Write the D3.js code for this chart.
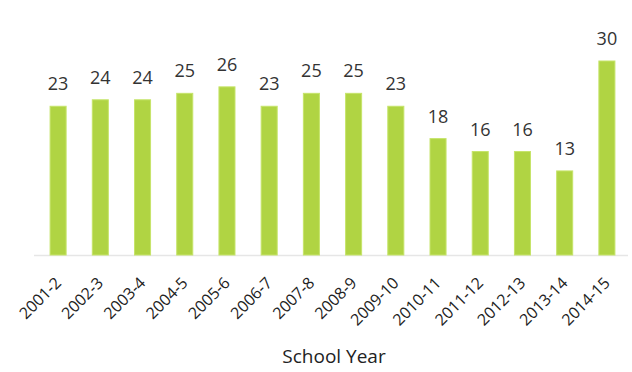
<!DOCTYPE html>
<html>
<head>
<meta charset="utf-8">
<script src="https://cdn.jsdelivr.net/npm/d3@7"></script>
<style>
  body { margin: 0; background: #fff; }
  svg { display: block; font-family: "Open Sans", "Noto Sans", sans-serif; }
</style>
</head>
<body>
<div id="chart"></div>
<script>
const years = ["2001-2", "2002-3", "2003-4", "2004-5", "2005-6", "2006-7", "2007-8",
  "2008-9", "2009-10", "2010-11", "2011-12", "2012-13", "2013-14", "2014-15"];
const counts = [23, 24, 24, 25, 26, 23, 25, 25, 23, 18, 16, 16, 13, 30];

const W = 632, H = 372;
const baseY = 255;

const svg = d3.select("#chart").append("svg")
  .attr("width", W)
  .attr("height", H);

const data = years.map((y, i) => ({ year: y, value: counts[i] }));

const x = d3.scaleBand()
  .domain(years)
  .range([37, 628])
  .paddingInner(0.62)
  .paddingOuter(0.31);

const y = d3.scaleLinear()
  .domain([0, 30])
  .range([baseY, 61]);

// faint baseline
svg.append("line")
  .attr("x1", 34).attr("x2", 628)
  .attr("y1", baseY + 0.5).attr("y2", baseY + 0.5)
  .attr("stroke", "#e6e6e6")
  .attr("stroke-width", 1.5);

svg.selectAll(".bar")
  .data(data)
  .join("rect")
  .attr("class", "bar")
  .attr("x", d => x(d.year))
  .attr("y", d => y(d.value))
  .attr("width", x.bandwidth())
  .attr("height", d => baseY - y(d.value))
  .attr("fill", "#b0d443")
  .attr("stroke", "#c6e46a")
  .attr("stroke-width", 1);

svg.selectAll(".val")
  .data(data)
  .join("text")
  .attr("class", "val")
  .attr("x", d => x(d.year) + x.bandwidth() / 2)
  .attr("y", d => y(d.value) - 16)
  .attr("text-anchor", "middle")
  .attr("font-size", 18)
  .attr("fill", "#333")
  .text(d => d.value);

const xAxis = svg.append("g")
  .attr("transform", `translate(0,${baseY})`)
  .call(d3.axisBottom(x).tickSize(0).tickPadding(0));
xAxis.select(".domain").remove();
xAxis.selectAll("text")
  .attr("font-size", 16)
  .attr("font-family", "Open Sans, Noto Sans, sans-serif")
  .attr("fill", "#222")
  .attr("text-anchor", "end")
  .attr("dy", 0)
  .attr("y", 0)
  .attr("transform", "translate(4,29) rotate(-45)");

svg.append("text")
  .attr("x", 334)
  .attr("y", 363)
  .attr("text-anchor", "middle")
  .attr("font-size", 19)
  .attr("fill", "#222")
  .text("School Year");
</script>
</body>
</html>
